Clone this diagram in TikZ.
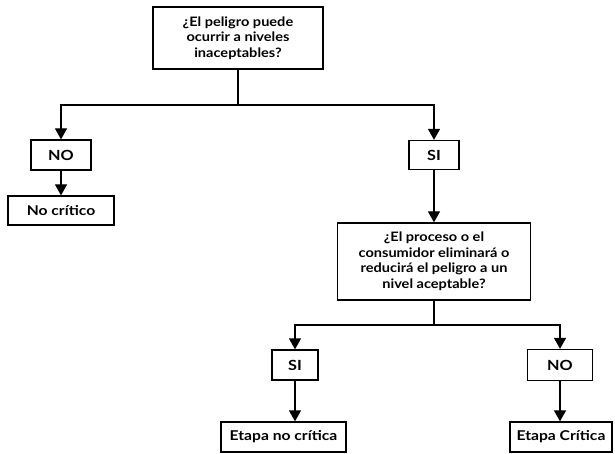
\documentclass[tikz,border=0pt]{standalone}
\usepackage{fontspec}
\setmainfont{Lato}
\newfontfamily\widelato[FakeStretch=1.12]{Lato}
\newfontfamily\widerlato[FakeStretch=1.16]{Lato}
\usetikzlibrary{arrows.meta}
\begin{document}
\begin{tikzpicture}[x=1pt,y=-1pt,
  box/.style={draw, line width=1.3pt, inner sep=2pt, align=center},
  ask/.style={box, font=\widelato\fontsize{13}{15.5}\selectfont\bfseries},
  tag/.style={box, font=\widerlato\fontsize{14}{16}\selectfont\bfseries},
  res/.style={box, font=\widerlato\fontsize{13.5}{16}\selectfont\bfseries},
  link/.style={line width=1.3pt},
  arr/.style={link, -{Triangle[width=12pt,length=11pt]}}]
\useasboundingbox (0,0) rectangle (615,454);

% decision boxes
\node[ask, minimum width=170pt, minimum height=62pt] (q1) at (238,38)
  {¿El peligro puede\\ocurrir a niveles\\inaceptables?};
\node[ask, minimum width=193pt, minimum height=77pt] (q2) at (434,261.5)
  {¿El proceso o el\\consumidor eliminará o\\reducirá el peligro a un\\nivel aceptable?};

% answer boxes
\node[tag, minimum width=60pt, minimum height=30pt] (no1) at (61,155) {NO};
\node[tag, minimum width=50pt, minimum height=29pt] (si1) at (434,155) {SI};
\node[tag, minimum width=46pt, minimum height=30pt] (si2) at (295,365) {SI};
\node[tag, minimum width=65pt, minimum height=31pt] (no2) at (560,365) {NO};

% results
\node[res, minimum width=106pt, minimum height=29pt] (nc) at (61,210.5) {No crítico};
\node[res, minimum width=125pt, minimum height=30pt] (enc) at (283.5,437) {Etapa no crítica};
\node[res, minimum width=102pt, minimum height=30pt] (ec) at (561,437) {Etapa Crítica};

% junctions
\coordinate (j1) at (238,105);
\coordinate (j2) at (434,325);

% first decision
\draw[link] (q1.south) -- (j1);
\draw[arr] (j1) -| (no1.north);
\draw[arr] (j1) -| (si1.north);
\draw[arr] (no1.south) -- (nc.north);
\draw[arr] (si1.south) -- (q2.north);

% second decision
\draw[link] (q2.south) -- (j2);
\draw[arr] (j2) -| (si2.north);
\draw[arr] (j2) -| (no2.north);
\draw[arr] (si2.south) -- (si2.south |- enc.north);
\draw[arr] (no2.south) -- (no2.south |- ec.north);
\end{tikzpicture}
\end{document}
